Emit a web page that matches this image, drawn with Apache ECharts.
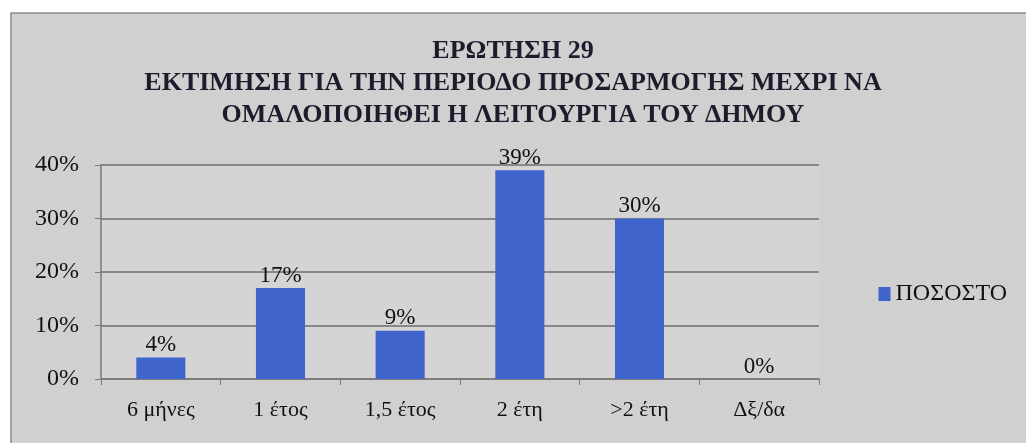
<!DOCTYPE html>
<html>
<head>
<meta charset="utf-8">
<script src="https://cdn.jsdelivr.net/npm/echarts@6/dist/echarts.min.js"></script>
<style>
html,body{margin:0;padding:0;background:#ffffff;}
#chart{width:1026px;height:443px;}
</style>
</head>
<body>
<div id="chart"></div>
<script>
const titleLines = ["ΕΡΩΤΗΣΗ 29", "ΕΚΤΙΜΗΣΗ ΓΙΑ ΤΗΝ ΠΕΡΙΟΔΟ ΠΡΟΣΑΡΜΟΓΗΣ ΜΕΧΡΙ ΝΑ", "ΟΜΑΛΟΠΟΙΗΘΕΙ Η ΛΕΙΤΟΥΡΓΙΑ ΤΟΥ ΔΗΜΟΥ"];
const categories = ["6 μήνες", "1 έτος", "1,5 έτος", "2 έτη", ">2 έτη", "Δξ/δα"];
const seriesName = "ΠΟΣΟΣΤΟ";
const values = [4, 17, 9, 39, 30, 0];
const yMin = 0, yMax = 40, yStep = 10;

const serif = "'Liberation Serif', 'DejaVu Serif', serif";
const chart = echarts.init(document.getElementById('chart'), null, {renderer: 'canvas'});
chart.setOption({
  backgroundColor: '#ffffff',
  animation: false,
  graphic: [{
    type: 'rect', z: -10, silent: true,
    shape: {x: 11, y: 13, width: 1030, height: 440},
    style: {fill: '#d0d0d0', stroke: '#8c8c8c', lineWidth: 1.5}
  }],
  title: {
    text: titleLines.join('\n'),
    left: 'center', top: 30,
    textStyle: {fontFamily: serif, fontWeight: 'bold', fontSize: 26, lineHeight: 32, color: '#1c1c2c'}
  },
  legend: {
    data: [seriesName],
    right: 14, top: 277,
    icon: 'rect', itemWidth: 12, itemHeight: 14, itemGap: 7,
    textStyle: {fontFamily: serif, fontSize: 24, color: '#111111'}
  },
  grid: {
    left: 101, right: 207, top: 165, bottom: 64,
    show: true, backgroundColor: '#d4d4d4', borderWidth: 0
  },
  xAxis: {
    type: 'category', data: categories,
    axisLine: {lineStyle: {color: '#7a7a7a', width: 1.5}},
    axisTick: {show: true, length: 6, lineStyle: {color: '#7a7a7a'}},
    axisLabel: {fontFamily: serif, fontSize: 22, color: '#111111', margin: 20}
  },
  yAxis: {
    type: 'value', min: yMin, max: yMax, interval: yStep,
    axisLine: {show: true, lineStyle: {color: '#7a7a7a', width: 1.5}},
    axisTick: {show: true, length: 6, lineStyle: {color: '#7a7a7a'}},
    axisLabel: {fontFamily: serif, fontSize: 24, color: '#111111', margin: 22, formatter: '{value}%'},
    splitLine: {lineStyle: {color: '#6e6e6e', width: 1.5}}
  },
  series: [{
    name: seriesName, type: 'bar', data: values,
    barWidth: '41%',
    itemStyle: {color: '#3f64cb'},
    label: {show: true, position: 'top', distance: 1, formatter: '{c}%', fontFamily: serif, fontSize: 23, color: '#111111'}
  }]
});
</script>
</body>
</html>
